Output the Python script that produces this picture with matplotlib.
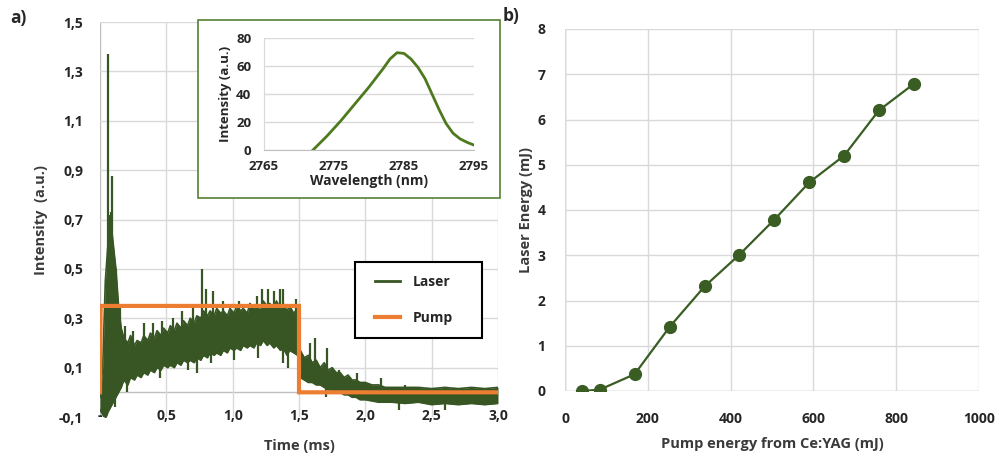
import numpy as np
import matplotlib.pyplot as plt
from matplotlib.patches import Rectangle

plt.rcParams['font.family'] = ['Open Sans', 'DejaVu Sans']
plt.rcParams['font.weight'] = 'bold'
plt.rcParams['axes.labelweight'] = 'bold'

# ---- panel a) laser trace, read as a low / high envelope of the noisy signal
t_env = [0.00, 0.02, 0.04, 0.06, 0.08, 0.10, 0.12, 0.14,
         0.16, 0.18, 0.21, 0.23, 0.26, 0.28, 0.31, 0.33, 0.36, 0.38,
         0.41, 0.43, 0.46, 0.48, 0.51, 0.53, 0.56, 0.58, 0.61, 0.63,
         0.66, 0.68, 0.71, 0.73, 0.76, 0.78, 0.81, 0.83, 0.86, 0.88,
         0.91, 0.93, 0.96, 0.98, 1.01, 1.03, 1.06, 1.08, 1.11, 1.13,
         1.16, 1.18, 1.21, 1.23, 1.26, 1.28, 1.31, 1.33, 1.36, 1.38,
         1.41, 1.43, 1.46, 1.49,
         1.51, 1.54, 1.57, 1.60, 1.63, 1.66, 1.69, 1.72, 1.75, 1.78,
         1.81, 1.84, 1.87, 1.90, 1.93, 1.96, 2.00, 2.05, 2.10, 2.15,
         2.20, 2.30, 2.40, 2.50, 2.60, 2.70, 2.80, 2.90, 3.00]
laser_lo = [-0.07, -0.09, -0.11, -0.08, -0.06, -0.04, -0.02, 0.00,
            0.02, 0.05, 0.03, 0.06, 0.05, 0.07, 0.06, 0.08, 0.07, 0.09,
            0.08, 0.10, 0.09, 0.11, 0.10, 0.11, 0.10, 0.12, 0.11, 0.13,
            0.12, 0.13, 0.12, 0.14, 0.13, 0.15, 0.14, 0.16, 0.15, 0.16,
            0.15, 0.17, 0.16, 0.18, 0.17, 0.18, 0.17, 0.19, 0.18, 0.19,
            0.18, 0.20, 0.19, 0.21, 0.19, 0.20, 0.18, 0.19, 0.17, 0.18,
            0.15, 0.17, 0.16, 0.15,
            0.06, 0.05, 0.04, 0.04, 0.03, 0.03, 0.02, 0.01, 0.01, 0.00,
            0.00, -0.01, -0.01, -0.02, -0.02, -0.03, -0.03, -0.035, -0.04, -0.04,
            -0.04, -0.045, -0.04, -0.05, -0.045, -0.05, -0.045, -0.05, -0.045]
laser_hi = [-0.02, 0.10, 0.45, 0.60, 0.70, 0.60, 0.50, 0.35,
            0.26, 0.22, 0.20, 0.23, 0.19, 0.21, 0.20, 0.23, 0.21, 0.24,
            0.22, 0.25, 0.23, 0.26, 0.24, 0.27, 0.25, 0.28, 0.26, 0.29,
            0.27, 0.30, 0.28, 0.31, 0.30, 0.33, 0.31, 0.33, 0.31, 0.34,
            0.32, 0.33, 0.31, 0.34, 0.32, 0.35, 0.33, 0.34, 0.32, 0.36,
            0.34, 0.35, 0.33, 0.37, 0.35, 0.36, 0.34, 0.37, 0.34, 0.36,
            0.33, 0.35, 0.32, 0.34,
            0.17, 0.14, 0.15, 0.12, 0.13, 0.10, 0.12, 0.09, 0.10, 0.08,
            0.08, 0.06, 0.07, 0.05, 0.05, 0.04, 0.04, 0.03, 0.03, 0.02,
            0.02, 0.02, 0.02, 0.015, 0.02, 0.015, 0.02, 0.015, 0.02]

# isolated spikes sticking out of the band (time, bottom, top)
spike_t = [0.058, 0.07, 0.085, 0.093, 0.10, 0.12, 0.15, 0.19, 0.25, 0.33, 0.40, 0.47,
           0.55, 0.62, 0.70, 0.766, 0.80, 0.85, 0.93, 1.05, 1.18, 1.22, 1.27, 1.31,
           1.36, 1.38, 1.48, 1.58, 1.62, 1.71, 1.80, 1.94, 2.12, 2.30]
spike_lo = [0.0, 0.0, 0.0, 0.0, 0.0, 0.0, 0.05, 0.08, 0.1, 0.12, 0.14, 0.15,
            0.17, 0.18, 0.2, 0.2, 0.2, 0.22, 0.22, 0.24, 0.25, 0.25, 0.25, 0.25,
            0.25, 0.25, 0.25, 0.08, 0.06, 0.05, 0.03, 0.02, 0.0, 0.0]
spike_hi = [1.37, 0.72, 0.73, 0.875, 0.55, 0.50, 0.35, 0.27, 0.25, 0.28, 0.28, 0.29,
            0.30, 0.33, 0.35, 0.50, 0.42, 0.41, 0.37, 0.37, 0.39, 0.42, 0.42, 0.41,
            0.42, 0.42, 0.38, 0.20, 0.22, 0.18, 0.09, 0.08, 0.06, 0.03]
# downward dips below the band (time, bottom)
dip_t = [0.11, 0.20, 0.45, 0.66, 0.73, 0.84, 1.01, 1.19, 1.38, 1.42, 1.70, 2.25, 2.6]
dip_lo = [-0.06, 0.0, 0.06, 0.09, 0.08, 0.12, 0.13, 0.14, 0.12, 0.10, -0.02, -0.07, -0.07]

pump_t = [0.0, 0.005, 1.5, 1.5, 3.0]
pump_v = [0.0, 0.35, 0.35, 0.0, 0.0]

# inset spectrum
wl = [2772, 2774, 2776, 2778, 2780, 2782, 2783, 2784, 2785, 2786, 2787, 2788,
      2789, 2790, 2791, 2792, 2793, 2794, 2795]
spec = [0, 10, 21, 33, 45, 58, 65, 69.5, 69, 65, 59, 51, 40, 29, 19, 12, 8, 5.5, 3.5]

# ---- panel b)
pump_energy = [42, 84, 168, 253, 337, 421, 506, 590, 674, 758, 843]
laser_energy = [0.0, 0.03, 0.37, 1.42, 2.31, 3.01, 3.79, 4.61, 5.2, 6.2, 6.79]

green = '#375623'
orange = '#ED7D31'
grid_c = '#D9D9D9'
txt = '#262626'
lab = '#3A3A3A'

fig = plt.figure(figsize=(10, 4.55), dpi=100)

# ----- a)
ax = fig.add_axes([0.100, 0.0835, 0.398, 0.8681])
ax.fill_between(t_env, laser_lo, laser_hi, color=green, lw=0)
ax.plot(t_env, laser_hi, color=green, lw=1.2)
ax.plot(t_env, laser_lo, color=green, lw=1.2)
ax.vlines(spike_t, spike_lo, spike_hi, color=green, lw=1.6)
ax.vlines(dip_t, dip_lo, [v + 0.06 for v in dip_lo], color=green, lw=1.6)
ax.plot([], [], color=green, lw=2, label='Laser')
ax.plot(pump_t, pump_v, color=orange, lw=3, label='Pump', solid_joinstyle='miter')

ax.set_xlim(0, 3.0)
ax.set_ylim(-0.1, 1.5)
ax.set_xticks([0, 0.5, 1.0, 1.5, 2.0, 2.5, 3.0])
ax.set_xticklabels(['-', '0,5', '1,0', '1,5', '2,0', '2,5', '3,0'])
yt = [-0.1, 0.1, 0.3, 0.5, 0.7, 0.9, 1.1, 1.3, 1.5]
ax.set_yticks(yt)
ax.set_yticklabels(['-0,1', '0,1', '0,3', '0,5', '0,7', '0,9', '1,1', '1,3', '1,5'])
ax.grid(True, color=grid_c, lw=1)
ax.set_axisbelow(True)
ax.yaxis.get_gridlines()[0].set_visible(False)
ax.xaxis.get_gridlines()[0].set_visible(False)
ax.axhline(0, color='#BFBFBF', lw=1, zorder=0.5)
ax.axvline(0, color='#BFBFBF', lw=1, zorder=0.5)
for s in ax.spines.values():
    s.set_visible(False)
ax.tick_params(length=0, labelsize=10, colors=txt)
ax.tick_params(axis='x', pad=-6)
ax.tick_params(axis='y', pad=12)
ax.set_xlabel('Time (ms)', fontsize=10.5, color=lab, labelpad=12)
ax.set_ylabel('Intensity  (a.u.)', fontsize=10.5, color=lab, labelpad=8)

# legend: frame drawn by hand so the box matches the original size
ax.add_patch(Rectangle((0.355, 1 - 338 / 455), 0.127, 76 / 455,
                       transform=fig.transFigure, facecolor='white',
                       edgecolor='black', lw=1.5, zorder=6, clip_on=False))
leg = ax.legend(loc='upper left', bbox_to_anchor=(0.375, 1 - 275 / 455),
                bbox_transform=fig.transFigure, frameon=False,
                fontsize=10, handlelength=1.8, labelspacing=1.55,
                borderpad=0, handletextpad=0.95, borderaxespad=0)
leg.set_zorder(7)
for txt_item in leg.get_texts():
    txt_item.set_color(txt)

# inset frame
fig.patches.append(Rectangle((0.198, 1 - 198 / 455), 0.302, 178 / 455,
                             transform=fig.transFigure, facecolor='white',
                             edgecolor='#548235', lw=1.2, zorder=5))
axi = fig.add_axes([0.264, 1 - 150 / 455, 0.210, 112 / 455], zorder=6)
axi.plot(wl, spec, color='#4E7A1F', lw=2)
axi.set_xlim(2765, 2795)
axi.set_ylim(0, 80)
axi.set_xticks([2765, 2775, 2785, 2795])
axi.set_yticks([0, 20, 40, 60, 80])
axi.grid(True, axis='y', color=grid_c, lw=1)
axi.set_axisbelow(True)
for s in axi.spines.values():
    s.set_visible(False)
axi.spines['left'].set_visible(True)
axi.spines['left'].set_color(grid_c)
axi.spines['bottom'].set_visible(True)
axi.spines['bottom'].set_color('#BFBFBF')
axi.tick_params(length=0, labelsize=9.5, colors=txt)
axi.tick_params(axis='x', pad=7)
axi.tick_params(axis='y', pad=9)
axi.set_xlabel('Wavelength (nm)', fontsize=10, color=txt, labelpad=1)
axi.set_ylabel('Intensity (a.u.)', fontsize=9.5, color=txt, labelpad=3)

# ----- b)
bx = fig.add_axes([0.565, 1 - 391 / 455, 0.414, 362 / 455])
bx.plot(pump_energy, laser_energy, color='#3A5D24', lw=1.6, marker='o', ms=8.5)
bx.set_xlim(0, 1000)
bx.set_ylim(0, 8)
bx.set_xticks(range(0, 1001, 200))
bx.set_yticks(range(0, 9))
bx.grid(True, color=grid_c, lw=1)
bx.set_axisbelow(True)
for s in bx.spines.values():
    s.set_visible(False)
bx.axhline(0, color='#BFBFBF', lw=1, zorder=0.5)
bx.axvline(0, color='#BFBFBF', lw=1, zorder=0.5)
bx.tick_params(length=0, labelsize=10, colors=txt)
bx.tick_params(axis='x', pad=15)
bx.tick_params(axis='y', pad=14)
bx.set_xlabel('Pump energy from Ce:YAG (mJ)', fontsize=10.5, color=lab, labelpad=8)
bx.set_ylabel('Laser Energy (mJ)', fontsize=10.5, color=lab, labelpad=3)

fig.text(0.010, 1 - 18 / 455, 'a)', fontsize=12.5, fontweight='bold', va='center', color=txt)
fig.text(0.503, 1 - 16 / 455, 'b)', fontsize=12.5, fontweight='bold', va='center', color=txt)

fig.savefig('out.png', dpi=100)
